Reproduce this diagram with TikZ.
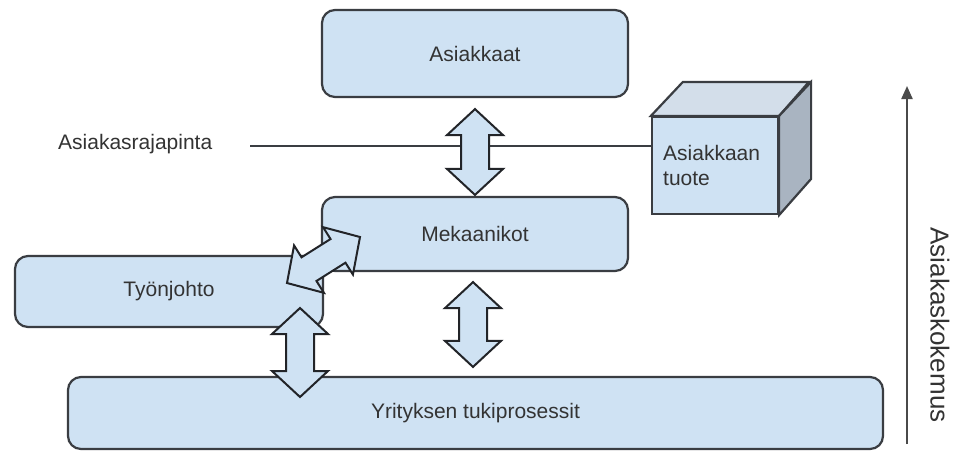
\documentclass[tikz,border=0pt]{standalone}
\usepackage{fontspec}
\setmainfont{Liberation Sans}
\usetikzlibrary{calc,arrows.meta}

\definecolor{boxfill}{HTML}{CFE2F3}
\definecolor{edge}{HTML}{3A3D42}
\definecolor{arrowedge}{HTML}{222428}
\definecolor{ink}{HTML}{333333}
\definecolor{cubetop}{HTML}{D3DEEA}
\definecolor{cubeside}{HTML}{A9B4C1}
\definecolor{axisgray}{HTML}{4A4A4A}

% Broad two-headed arrow drawn as an outline between two named points
% (head length 26, half head width 28, half shaft width 14).
\newcommand\fatarrow[2]{%
  \draw[fatarrow] (#1)
    -- ($(#1)!26pt!(#2)!28pt!90:(#2)$)
    -- ($(#1)!26pt!(#2)!14pt!90:(#2)$)
    -- ($(#2)!26pt!(#1)!14pt!-90:(#1)$)
    -- ($(#2)!26pt!(#1)!28pt!-90:(#1)$)
    -- (#2)
    -- ($(#2)!26pt!(#1)!28pt!90:(#1)$)
    -- ($(#2)!26pt!(#1)!14pt!90:(#1)$)
    -- ($(#1)!26pt!(#2)!14pt!-90:(#2)$)
    -- ($(#1)!26pt!(#2)!28pt!-90:(#2)$)
    -- cycle;}

\begin{document}
\begin{tikzpicture}[x=1pt,y=-1pt,
  font=\fontsize{21}{25}\selectfont, text=ink,
  box/.style={draw=edge, fill=boxfill, line width=2.2pt, rounded corners=13pt,
    inner sep=0pt, text=ink},
  fatarrow/.style={draw=arrowedge, fill=boxfill, line width=2pt, line join=miter},
  cubeface/.style={draw=edge, line width=2.2pt, line join=miter}]

\useasboundingbox (0,0) rectangle (955,451);
\fill[white] (0,0) rectangle (955,451);

% Main blocks
\node[box, minimum width=306pt, minimum height=87pt] (ask) at (475,53.5) {Asiakkaat};
\node[box, minimum width=306pt, minimum height=74pt] (mek) at (475,234) {Mekaanikot};
\node[box, minimum width=308pt, minimum height=71pt] (tyo) at (169,291.5) {Työnjohto};
\node[box, minimum width=815pt, minimum height=72pt] (yri) at (475.5,413) {Yrityksen tukiprosessit};

% Customer interface line and its label
\node[anchor=west, inner sep=0pt] (rajal) at (58,144) {Asiakasrajapinta};
\coordinate (rajastart) at (250,146);

% Product cube
\node[cubeface, fill=boxfill, minimum width=126pt, minimum height=97pt, inner sep=0pt]
  (prod) at (715,165.5) {};
\draw[cubeface, fill=cubetop] (prod.north west) -- ++(32,-34) -- ++(126,0)
  -- (prod.north east) -- cycle;
\draw[cubeface, fill=cubeside] (prod.north east) -- ++(32,-34) -- ++(0,97)
  -- (prod.south east) -- cycle;
\node[anchor=west, align=left, inner sep=0pt] (prodlabel) at (663,165.5) {Asiakkaan\\tuote};

\draw[line width=1.6pt, draw=edge] (rajastart) -- (rajastart -| prod.west);

% Two-headed arrows between the blocks
\coordinate (a1t) at ($(ask.south)+(0,11)$);
\coordinate (a1b) at ($(mek.north)+(0,-1)$);
\fatarrow{a1t}{a1b}

\coordinate (a2t) at ($(mek.south)+(-2,10)$);
\coordinate (a2b) at ($(yri.north)+(-2.5,-9)$);
\fatarrow{a2t}{a2b}

\coordinate (a3t) at (300,308);
\coordinate (a3b) at (300,397);
\fatarrow{a3t}{a3b}

\coordinate (a4l) at (287,283);
\coordinate (a4r) at (360,237);
\fatarrow{a4l}{a4r}

% Customer experience axis
\coordinate (axb) at (907,444);
\coordinate (axt) at (907,86);
\draw[line width=2.2pt, draw=axisgray, -{Triangle[length=13pt,width=11pt]}] (axb) -- (axt);
\node[rotate=-90, font=\fontsize{26}{30}\selectfont, inner sep=0pt] (axl) at (940,325) {Asiakaskokemus};

\end{tikzpicture}
\end{document}
